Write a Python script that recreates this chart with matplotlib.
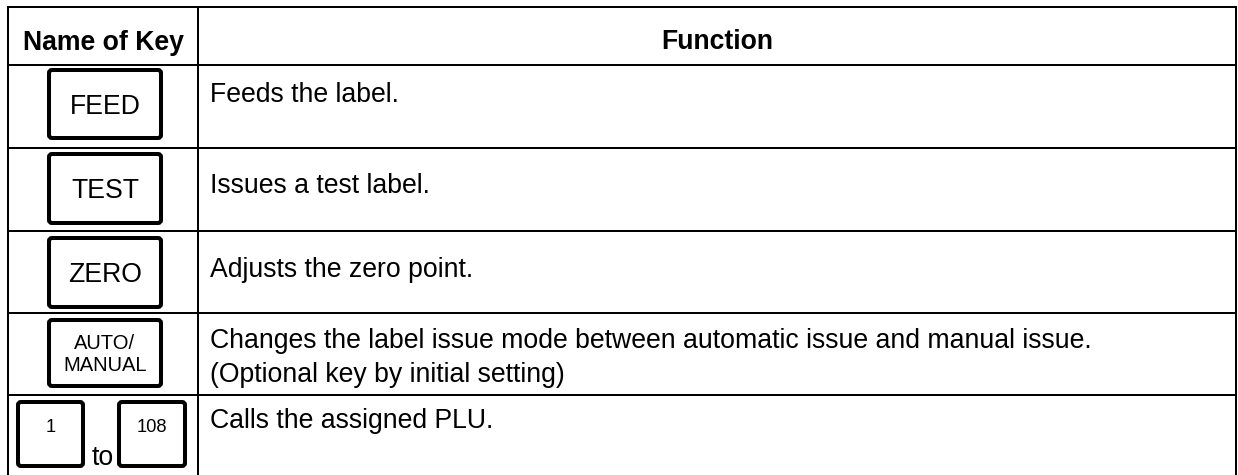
import matplotlib
matplotlib.use("Agg")
import matplotlib.pyplot as plt
from matplotlib.patches import FancyBboxPatch

plt.rcParams['font.family'] = ['Liberation Sans', 'DejaVu Sans']

# ---- data ----
headers = ["Name of Key", "Function"]
key_labels = ["FEED", "TEST", "ZERO", "AUTO/\nMANUAL"]
range_keys = ["1", "108"]
range_word = "to"
functions = [
    ["Feeds the label."],
    ["Issues a test label."],
    ["Adjusts the zero point."],
    ["Changes the label issue mode between automatic issue and manual issue.",
     "(Optional key by initial setting)"],
    ["Calls the assigned PLU."],
]

# ---- layout (pixels) ----
W, H = 1238, 475
fig = plt.figure(figsize=(W / 100, H / 100), dpi=100)
ax = fig.add_axes([0, 0, 1, 1])
ax.set_xlim(0, W)
ax.set_ylim(H, 0)
ax.axis('off')

px = 0.72  # points per pixel at dpi 100
x_left, x_div, x_right = 8, 198, 1236
row_lines = [7, 65, 148, 231, 313, 395]
fs = 19.2
fs_small = 14.5
fs_num = 13.2
lw_table = 2 * px
lw_key = 4 * px

for y in row_lines:
    ax.plot([x_left - 1, x_right + 1], [y, y], color='black', lw=lw_table, solid_capstyle='butt')
for x in (x_left, x_div, x_right):
    ax.plot([x, x], [row_lines[0], H + 5], color='black', lw=lw_table, solid_capstyle='butt')

# header
ax.text((x_left + x_div) / 2, 50, headers[0], ha='center', va='baseline',
        fontsize=fs, fontweight='bold')
ax.text((x_div + x_right) / 2, 49, headers[1], ha='center', va='baseline',
        fontsize=fs, fontweight='bold')

def key_box(x0, y0, x1, y1):
    ax.add_patch(FancyBboxPatch((x0, y0), x1 - x0, y1 - y0,
                                boxstyle="round,pad=0,rounding_size=3",
                                fc='white', ec='black', lw=lw_key))

# single keys
key_boxes = [(49, 70, 161, 138), (49, 154, 161, 223), (49, 238, 161, 307), (49, 320, 161, 386)]
for lab, (x0, y0, x1, y1) in zip(key_labels, key_boxes):
    key_box(x0, y0, x1, y1)
    cx, cy = (x0 + x1) / 2, (y0 + y1) / 2
    lines = lab.split("\n")
    if len(lines) == 1:
        ax.text(cx, cy + 9.5, lines[0], ha='center', va='baseline', fontsize=fs)
    else:
        ax.text(cx, cy - 4, lines[0], ha='center', va='baseline', fontsize=fs_small)
        ax.text(cx, cy + 18, lines[1], ha='center', va='baseline', fontsize=fs_small)

# range keys
range_boxes = [(18, 402, 83, 466), (119, 402, 185, 466)]
for lab, (x0, y0, x1, y1) in zip(range_keys, range_boxes):
    key_box(x0, y0, x1, y1)
    ax.text((x0 + x1) / 2, y0 + 30, lab, ha='center', va='baseline', fontsize=fs_num)
ax.text(103, 465, range_word, ha='center', va='baseline', fontsize=fs)

# function texts
baselines = [[102], [193], [277], [348, 382], [428]]
for txts, bls in zip(functions, baselines):
    for t, b in zip(txts, bls):
        ax.text(210, b, t, ha='left', va='baseline', fontsize=fs)

fig.savefig("out.png", dpi=100)
